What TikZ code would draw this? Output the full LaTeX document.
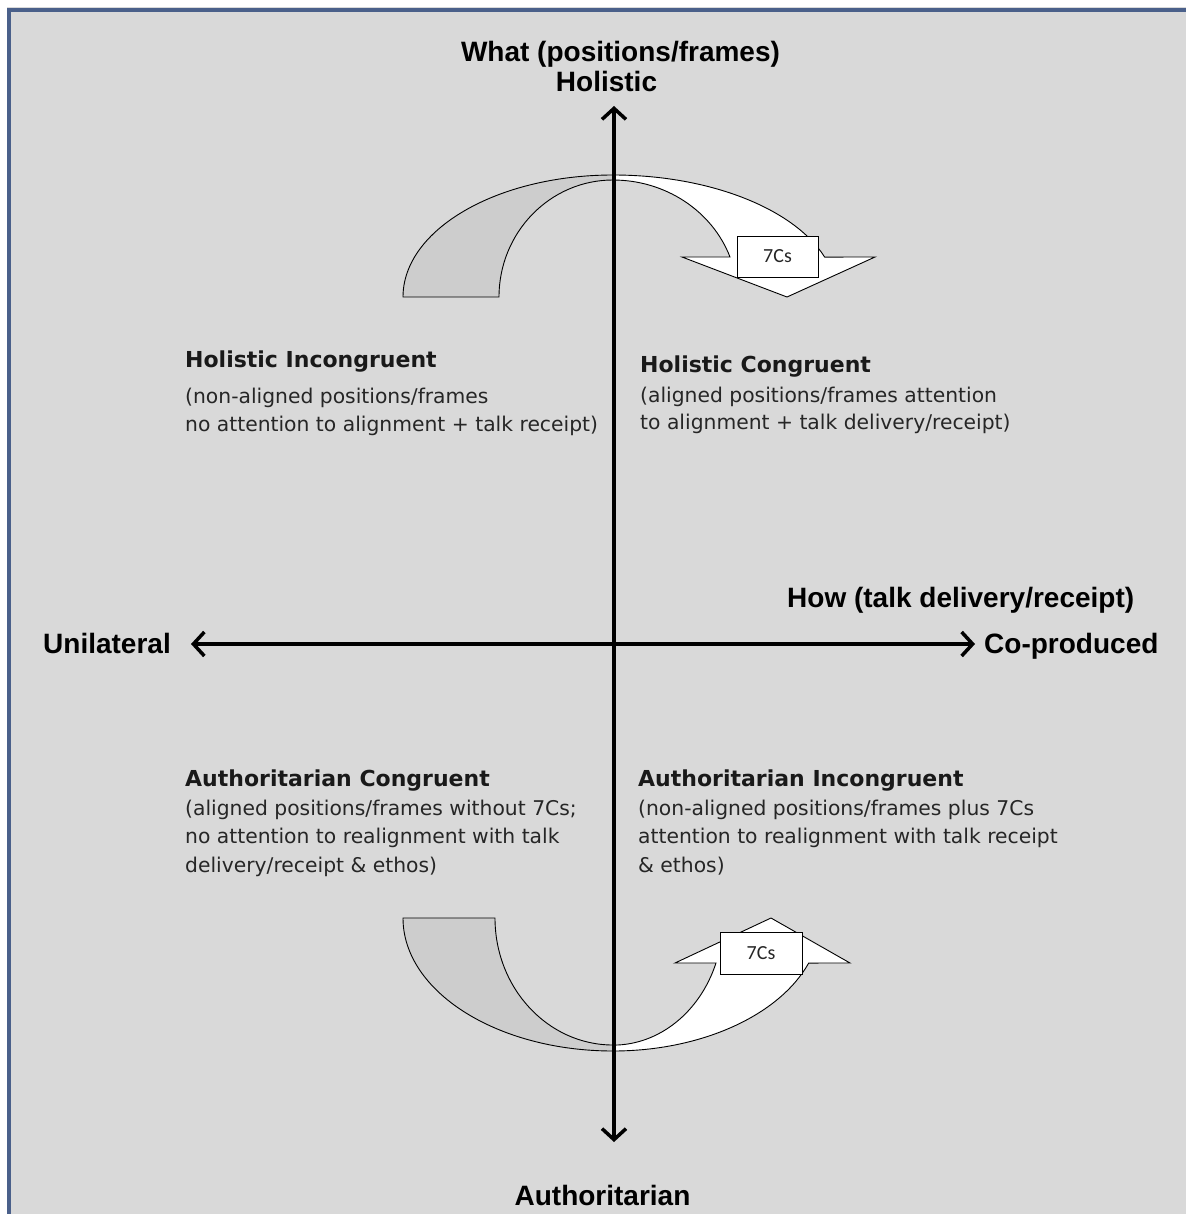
\documentclass[tikz,border=0pt]{standalone}
\usepackage{fontspec}
\setmainfont{Liberation Sans}
\newfontfamily\qfont{DejaVu Sans}
\newfontfamily\cfont{Carlito}
\usetikzlibrary{arrows.meta}
\definecolor{bgc}{RGB}{217,217,217}
\definecolor{borderc}{RGB}{74,96,138}
\definecolor{grayfill}{RGB}{205,205,205}
\tikzset{
  axlabel/.style={font=\bfseries\fontsize{28}{32}\selectfont, inner sep=0pt},
  qtitle/.style={font=\qfont\bfseries\fontsize{22}{26}\selectfont, anchor=base west, inner sep=0pt, text=black!90},
  qbody/.style={font=\qfont\fontsize{20.3}{24}\selectfont, anchor=base west, inner sep=0pt, text=black!85},
  band/.style={draw=black, line width=0.9pt},
  cbox/.style={draw=black, fill=white, line width=0.9pt, font=\cfont\fontsize{20}{24}\selectfont, text=black!85, inner sep=0pt},
  axisline/.style={line width=3.5pt, >={Straight Barb[length=11pt,width=24pt]}}
}
\begin{document}
\begin{tikzpicture}[x=1pt,y=-1pt]
\useasboundingbox (0,0) rectangle (1186,1214);
\fill[white] (0,0) rectangle (1186,1214);
\fill[bgc] (7,7) rectangle (1186,1214);
\draw[borderc, line width=4pt] (9,1214) -- (9,10) -- (1186,10);

% top curved arrow
\filldraw[band, fill=grayfill] (403,297) arc[start angle=180, end angle=270, x radius=210, y radius=122]
  -- (613,180) arc[start angle=270, end angle=180, x radius=114, y radius=117] -- cycle;
\filldraw[band, fill=white] (613,175) arc[start angle=270, end angle=340.9, x radius=224, y radius=122]
  -- (875,257) -- (787,297) -- (682,257) -- (730,257)
  arc[start angle=340, end angle=270, x radius=124.5, y radius=117] -- cycle;
\node[cbox, minimum width=81pt, minimum height=41pt] (c1) at (777.5,256.5) {7Cs};

% bottom curved arrow
\filldraw[band, fill=grayfill] (403,918) arc[start angle=180, end angle=90, x radius=210, y radius=133]
  -- (613,1045) arc[start angle=90, end angle=180, x radius=118, y radius=127] -- cycle;
\filldraw[band, fill=white] (613,1051) arc[start angle=90, end angle=19.8, x radius=208, y radius=133]
  -- (850,963) -- (771,918) -- (675,963) -- (716,963)
  arc[start angle=20.7, end angle=90, x radius=110, y radius=127] -- cycle;
\node[cbox, minimum width=82pt, minimum height=42pt] (c2) at (761,953) {7Cs};

% axes
\coordinate (vt) at (614,106);
\coordinate (vb) at (614,1142);
\coordinate (hl) at (191,644);
\coordinate (hr) at (975,644);
\draw[axisline, <->] (vb) -- (vt);
\draw[axisline, <->] (hl) -- (hr);

% axis labels
\node[axlabel, anchor=base] (what) at (620.5,62) {What (positions/frames)};
\node[axlabel, anchor=base] (hol) at (606.5,92) {Holistic};
\node[axlabel, anchor=base] (auth) at (602.5,1205) {Authoritarian};
\node[axlabel, anchor=base west] (uni) at (43,653) {Unilateral};
\node[axlabel, anchor=base west] (cop) at (984,653) {Co-produced};
\node[axlabel, anchor=base west] (how) at (787,607) {How (talk delivery/receipt)};

% quadrant texts
\node[qtitle] (hiT) at (185,367) {Holistic Incongruent};
\node[qbody] (hi1) at (185,403) {(non-aligned positions/frames};
\node[qbody] (hi2) at (185,431) {no attention to alignment + talk receipt)};

\node[qtitle] (hcT) at (640,372) {Holistic Congruent};
\node[qbody] (hc1) at (640,402) {(aligned positions/frames attention};
\node[qbody] (hc2) at (640,429) {to alignment + talk delivery/receipt)};

\node[qtitle] (acT) at (185,786) {Authoritarian Congruent};
\node[qbody] (ac1) at (185,815) {(aligned positions/frames without 7Cs;};
\node[qbody] (ac2) at (185,843) {no attention to realignment with talk};
\node[qbody] (ac3) at (185,872) {delivery/receipt \& ethos)};

\node[qtitle] (aiT) at (638,786) {Authoritarian Incongruent};
\node[qbody] (ai1) at (638,815) {(non-aligned positions/frames plus 7Cs};
\node[qbody] (ai2) at (638,843) {attention to realignment with talk receipt};
\node[qbody] (ai3) at (638,872) {\& ethos)};
\end{tikzpicture}
\end{document}
